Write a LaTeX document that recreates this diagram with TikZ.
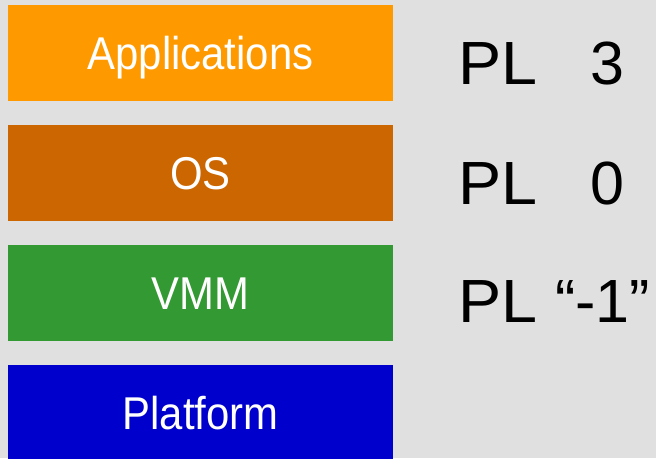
\documentclass[tikz,border=0pt]{standalone}
\usepackage{fontspec}
\setmainfont{Liberation Sans}
\definecolor{bgGray}{HTML}{E0E0E0}
\definecolor{appOrange}{HTML}{FF9900}
\definecolor{osBrown}{HTML}{CC6600}
\definecolor{vmmGreen}{HTML}{339933}
\definecolor{platBlue}{HTML}{0000CC}
% narrow the layer captions slightly
\newcommand\layerlabel[1]{\scalebox{0.91}[1]{#1}}
\tikzset{
  layer/.style={fill=#1, draw=none, inner sep=0pt, minimum width=385pt, minimum height=96pt,
    text=white, font=\fontsize{46}{52}\selectfont, text height=33pt, text depth=0pt},
  ring/.style={inner sep=0pt, anchor=base west, font=\fontsize{61}{70}\selectfont, text=black}
}
\begin{document}
\begin{tikzpicture}[x=1pt,y=1pt]
  % canvas
  \fill[bgGray] (0,0) rectangle (656,458);
  \useasboundingbox (0,0) rectangle (656,458);
  % layer stack (y measured from the bottom edge)
  \node[layer=appOrange] (apps) at (200.5,405) {\layerlabel{Applications}};
  \node[layer=osBrown]   (os)   at (200.5,285) {\layerlabel{OS}};
  \node[layer=vmmGreen]  (vmm)  at (200.5,165) {\layerlabel{VMM}};
  \node[layer=platBlue]  (plat) at (200.5,45)  {\layerlabel{Platform}};
  % privilege levels
  \node[ring] (pla) at (458.5,373) {\scalebox{1.06}[1]{PL}};
  \node[ring] (pva) at (590.5,373) {3};
  \node[ring] (plb) at (458.5,253) {\scalebox{1.06}[1]{PL}};
  \node[ring] (pvb) at (590.5,253) {0};
  \node[ring] (plc) at (458.5,135) {\scalebox{1.06}[1]{PL}};
  \node[ring] (pvc) at (555,135) {“-1”};
\end{tikzpicture}
\end{document}
